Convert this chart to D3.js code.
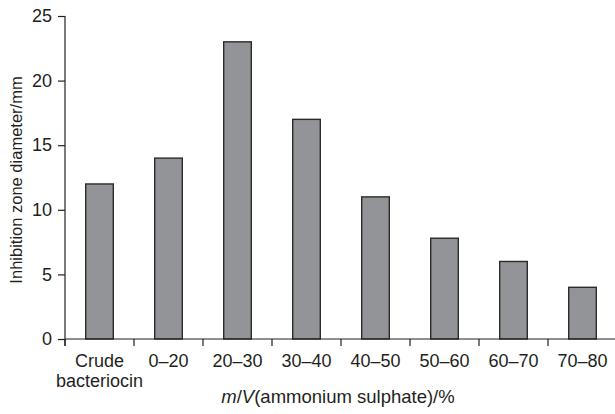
<!DOCTYPE html>
<html>
<head>
<meta charset="utf-8">
<script src="https://cdn.jsdelivr.net/npm/d3@7"></script>
<style>
  html, body { margin: 0; padding: 0; background: #fff; }
  svg { display: block; font-family: "Liberation Sans", Arial, sans-serif; }
</style>
</head>
<body>
<svg id="chart" width="615" height="414"></svg>
<script>
// Ammonium sulphate fractions and their inhibition zone diameters
const categories = ["Crude bacteriocin", "0–20", "20–30", "30–40", "40–50", "50–60", "60–70", "70–80"];
const diameters = [12, 14, 23, 17, 11, 7.8, 6, 4];
const yTicks = [0, 5, 10, 15, 20, 25];

const svg = d3.select("#chart");
const margin = { left: 65, right: -2, top: 16, bottom: 75 };
const W = 615, H = 414;
const fontSize = "18px";

const x = d3.scaleBand()
  .domain(categories)
  .range([margin.left, W - margin.right])
  .paddingInner(0.6)
  .paddingOuter(0.3);

const y = d3.scaleLinear()
  .domain([0, 25])
  .range([H - margin.bottom, margin.top]);

const ink = "#231f20";

// Bars
svg.append("g")
  .selectAll("rect")
  .data(diameters)
  .join("rect")
  .attr("x", (d, i) => x(categories[i]))
  .attr("width", x.bandwidth())
  .attr("y", d => y(d))
  .attr("height", d => y(0) - y(d))
  .attr("fill", "#939498")
  .attr("stroke", "#2b2b2b")
  .attr("stroke-width", 1.4);

// Y axis
const yAxis = svg.append("g")
  .attr("transform", `translate(${margin.left},0)`)
  .call(d3.axisLeft(y).tickValues(yTicks).tickSize(7).tickPadding(6).tickSizeOuter(0));
yAxis.select(".domain").remove();
yAxis.append("line")
  .attr("x1", 0).attr("x2", 0)
  .attr("y1", y(25)).attr("y2", y(0) + 7)
  .attr("stroke", ink).attr("stroke-width", 1.2);
yAxis.selectAll(".tick line").attr("stroke", ink).attr("stroke-width", 1.2);
yAxis.selectAll(".tick text")
  .attr("fill", ink)
  .style("font-size", fontSize);

// X axis with boundary ticks between categories
const xg = svg.append("g");
xg.append("line")
  .attr("x1", margin.left).attr("x2", W)
  .attr("y1", y(0)).attr("y2", y(0))
  .attr("stroke", ink).attr("stroke-width", 1.2);
const step = x.step();
xg.selectAll("line.bt")
  .data(categories)
  .join("line")
  .attr("class", "bt")
  .attr("x1", c => x(c) + x.bandwidth() / 2 - step / 2)
  .attr("x2", c => x(c) + x.bandwidth() / 2 - step / 2)
  .attr("y1", y(0)).attr("y2", y(0) + 7)
  .attr("stroke", ink).attr("stroke-width", 1.2);

// Category labels (wrap two-word labels)
xg.selectAll("text.cat")
  .data(categories)
  .join("text")
  .attr("class", "cat")
  .attr("x", c => x(c) + x.bandwidth() / 2)
  .attr("y", y(0) + 28)
  .attr("text-anchor", "middle")
  .attr("fill", ink)
  .style("font-size", fontSize)
  .each(function (c) {
    const words = c.split(" ");
    const t = d3.select(this);
    words.forEach((w, k) => {
      t.append("tspan")
        .attr("x", x(c) + x.bandwidth() / 2)
        .attr("dy", k === 0 ? 0 : 20)
        .text(w);
    });
  });

// Axis titles
svg.append("text")
  .attr("transform", "translate(22,180) rotate(-90)")
  .attr("text-anchor", "middle")
  .attr("fill", ink)
  .style("font-size", "16.5px")
  .text("Inhibition zone diameter/mm");

const xt = svg.append("text")
  .attr("x", 338)
  .attr("y", 403)
  .attr("text-anchor", "middle")
  .attr("fill", ink)
  .style("font-size", "18.5px");
xt.append("tspan").style("font-style", "italic").text("m");
xt.append("tspan").text("/");
xt.append("tspan").style("font-style", "italic").text("V");
xt.append("tspan").text("(ammonium sulphate)/%");
</script>
</body>
</html>
